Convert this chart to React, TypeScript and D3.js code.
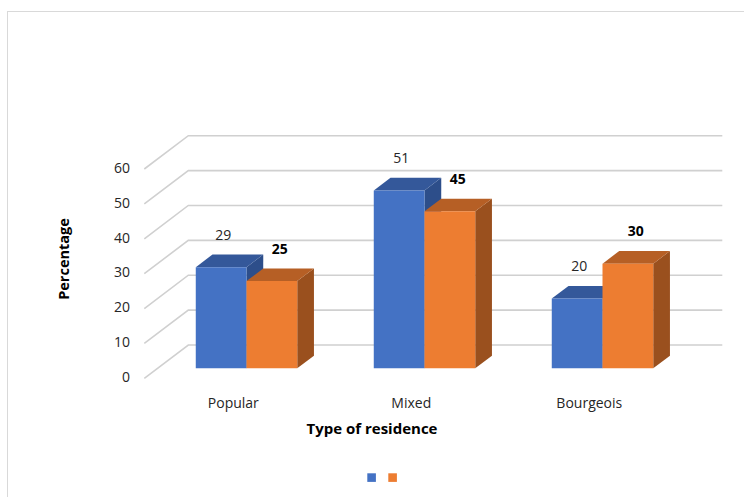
import React from "react";
import * as d3 from "d3";

const categories = ["Popular", "Mixed", "Bourgeois"];
const series = ["s1", "s2"];
const valuesBlue = [29, 51, 20];
const valuesOrange = [25, 45, 30];
const yTicks = [0, 10, 20, 30, 40, 50, 60];

const W = 744;
const H = 497;
const FONT = "'Open Sans', 'Noto Sans', sans-serif";

const frontX0 = 144.3;
const frontX1 = 678.3;
const DX = 44;
const DY = -33.3;
const Z0 = 0.3;
const Z1 = 0.68;

const colors = [
  { front: "#4472C4", top: "#34589A", side: "#2D4E8A" },
  { front: "#ED7D31", top: "#B65F25", side: "#9A501E" },
];

export default function App() {
  const y = d3.scaleLinear().domain([0, 60]).range([378.3, 169]);
  const x = d3.scaleBand<string>().domain(categories).range([frontX0, frontX1]);
  const groupW = x.bandwidth() * 0.57;
  const inner = d3.scaleBand<string>().domain(series).range([0, groupW]);
  const proj = (px: number, v: number, z: number): [number, number] => [px + z * DX, y(v) + z * DY];
  const pts = (arr: [number, number][]) => arr.map((p) => p.join(",")).join(" ");

  const data = [valuesBlue, valuesOrange];

  return (
    <svg width={W} height={H} style={{ position: "absolute", left: 0, top: 0, background: "#fff" }} fontFamily={FONT}>
      <rect x={7.5} y={11.5} width={W} height={H} fill="#fff" stroke="#d9d9d9" strokeWidth={1} />
      {yTicks.map((t) => {
        const a = proj(frontX0, t, 0);
        const b = proj(frontX0, t, 1);
        const c = proj(frontX1, t, 1);
        return <polyline key={t} points={pts([a, b, c])} fill="none" stroke="#d0d0d0" strokeWidth={1.6} />;
      })}
      {yTicks.map((t) => (
        <text key={"t" + t} x={130} y={y(t)} textAnchor="end" dominantBaseline="middle" fontSize={14} fill="#262626">
          {t}
        </text>
      ))}
      {categories.map((cat, i) => {
        const g0 = (x(cat) as number) + (x.bandwidth() - groupW) / 2;
        return (
          <g key={cat}>
            {series.map((s, si) => {
              const v = data[si][i];
              const xl = g0 + (inner(s) as number);
              const xr = xl + inner.bandwidth();
              const c = colors[si];
              const fBL = proj(xl, 0, Z0), fBR = proj(xr, 0, Z0), fTL = proj(xl, v, Z0), fTR = proj(xr, v, Z0);
              const bTL = proj(xl, v, Z1), bTR = proj(xr, v, Z1), bBR = proj(xr, 0, Z1);
              return (
                <g key={s}>
                  <polygon points={pts([fBR, fTR, bTR, bBR])} fill={c.side} />
                  <polygon points={pts([fTL, fTR, bTR, bTL])} fill={c.top} />
                  <polygon points={pts([fBL, fTL, fTR, fBR])} fill={c.front} />
                </g>
              );
            })}
            {series.map((s, si) => {
              const v = data[si][i];
              const xl = g0 + (inner(s) as number);
              const cx = proj(xl + inner.bandwidth() / 2, v, Z0)[0] + (si === 0 ? 2 : 8);
              const ly = proj(xl, v, Z1)[1] - 18.5;
              return (
                <text key={"l" + s} x={cx} y={ly} textAnchor="middle" dominantBaseline="middle" fontSize={14}
                  fontWeight={si === 1 ? "bold" : "normal"} fill={si === 1 ? "#000" : "#262626"}>
                  {v}
                </text>
              );
            })}
            <text x={(x(cat) as number) + x.bandwidth() / 2} y={404} textAnchor="middle" dominantBaseline="middle" fontSize={14} fill="#262626">
              {cat}
            </text>
          </g>
        );
      })}
      <text x={372} y={429.5} textAnchor="middle" dominantBaseline="middle" fontSize={15} fontWeight="bold" fill="#000">
        Type of residence
      </text>
      <text transform="translate(65,259) rotate(-90)" textAnchor="middle" dominantBaseline="middle" fontSize={14.5} fontWeight="bold" fill="#000">
        Percentage
      </text>
      <rect x={367.3} y={473.3} width={8.6} height={8.6} fill={colors[0].front} />
      <rect x={388.3} y={473.3} width={8.6} height={8.6} fill={colors[1].front} />
    </svg>
  );
}
